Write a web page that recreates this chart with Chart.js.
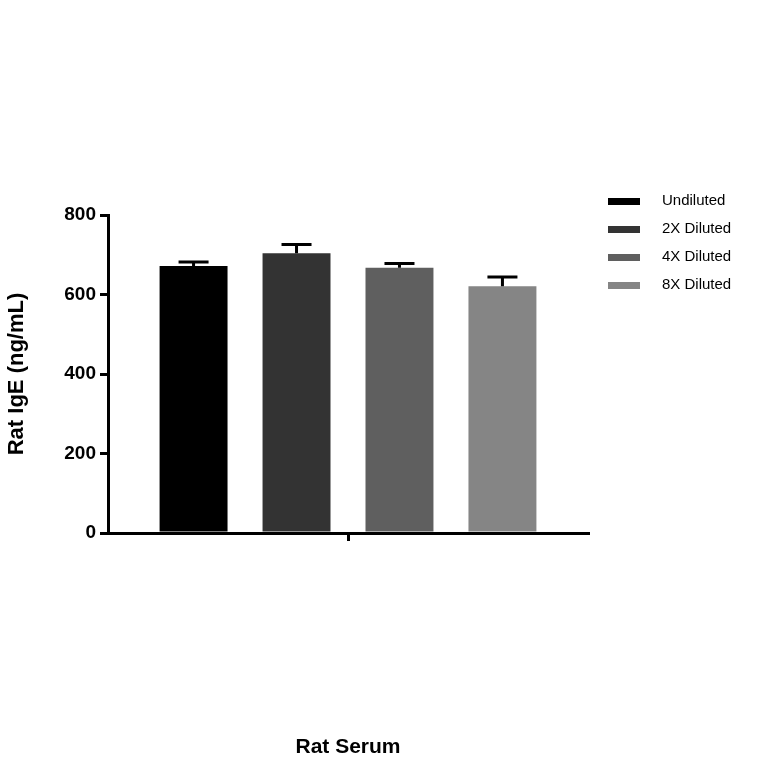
<!DOCTYPE html>
<html>
<head>
<meta charset="utf-8">
<script src="https://cdn.jsdelivr.net/npm/chart.js@4"></script>
<style>
  html, body { margin: 0; padding: 0; background: #fff; }
  #wrap { width: 764px; height: 764px; }
</style>
</head>
<body>
<div id="wrap"><canvas id="myChart" width="764" height="764"></canvas></div>
<script>
var categories = ["Rat Serum"];
var seriesNames = ["Undiluted", "2X Diluted", "4X Diluted", "8X Diluted"];
var seriesValues = [672, 704, 667, 621];
var seriesErrors = [10, 22, 11, 23];
var barColors = ["#000000", "#333333", "#5f5f5f", "#858585"];
var yTicks = [0, 200, 400, 600, 800];

var errorBars = {
    id: "errorBars",
    afterDatasetsDraw(chart) {
        const ctx = chart.ctx;
        const y = chart.scales.y;
        ctx.save();
        ctx.strokeStyle = "#000";
        ctx.lineWidth = 3;
        chart.data.datasets.forEach((ds, i) => {
            const bar = chart.getDatasetMeta(i).data[0];
            const top = y.getPixelForValue(ds.data[0] + seriesErrors[i]);
            ctx.beginPath();
            ctx.moveTo(bar.x, bar.y);
            ctx.lineTo(bar.x, top);
            ctx.moveTo(bar.x - 15, top);
            ctx.lineTo(bar.x + 15, top);
            ctx.stroke();
        });
        ctx.restore();
    }
};

var sideLegend = {
    id: "sideLegend",
    afterDraw(chart) {
        const ctx = chart.ctx;
        ctx.save();
        ctx.font = "15px 'Liberation Sans', Arial, sans-serif";
        ctx.textBaseline = "middle";
        seriesNames.forEach((name, i) => {
            const yy = 201 + i * 28;
            ctx.fillStyle = barColors[i];
            ctx.fillRect(608, yy - 3, 32, 7);
            ctx.fillStyle = "#000";
            ctx.fillText(name, 662, yy);
        });
        ctx.restore();
    }
};

new Chart("myChart", {
    type: "bar",
    data: {
        labels: categories,
        datasets: seriesNames.map((name, i) => ({
            label: name,
            data: [seriesValues[i]],
            backgroundColor: barColors[i],
            barPercentage: 0.66,
            categoryPercentage: 0.858
        }))
    },
    options: {
        responsive: false,
        animation: false,
        layout: { padding: { left: 0, right: 176, top: 215, bottom: 0 } },
        plugins: { legend: { display: false }, tooltip: { enabled: false } },
        scales: {
            x: {
                grid: { display: true, drawOnChartArea: false, offset: false, color: "#000", lineWidth: 3, tickLength: 8, tickColor: "#000" },
                border: { display: true, color: "#000", width: 3 },
                ticks: { display: false },
                title: { display: true, text: "Rat Serum", color: "#000", font: { family: "'Liberation Sans', Arial", size: 21, weight: "bold" }, padding: { top: 8 } },
                afterFit: s => { s.height = 231; }
            },
            y: {
                min: 0, max: 800,
                afterBuildTicks: s => { s.ticks = yTicks.map(v => ({ value: v })); },
                grid: { display: true, drawOnChartArea: false, color: "#000", lineWidth: 3, tickLength: 8, tickColor: "#000" },
                border: { display: true, color: "#000", width: 3 },
                ticks: { color: "#000", padding: 4, font: { family: "'Liberation Sans', Arial", size: 19, weight: "bold" } },
                title: { display: true, text: "Rat IgE (ng/mL)", color: "#000", font: { family: "'Liberation Sans', Arial", size: 22, weight: "bold" }, padding: { bottom: 2 } },
                afterFit: s => { s.width = 108; }
            }
        }
    },
    plugins: [errorBars, sideLegend]
});
</script>
</body>
</html>
